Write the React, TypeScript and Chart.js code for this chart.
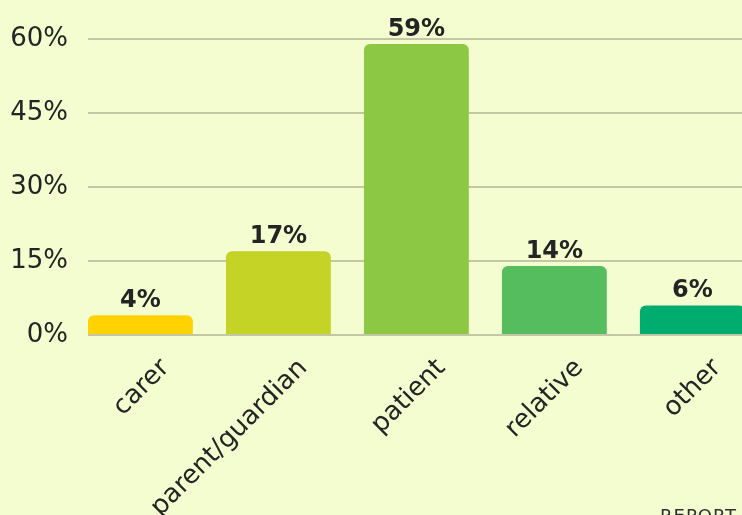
import React, { useEffect, useRef } from 'react';
import { Chart, registerables } from 'chart.js';

Chart.register(...registerables);

const categories = ['carer', 'parent/guardian', 'patient', 'relative', 'other'];
const values = [4, 17, 59, 14, 6];
const barColors = ['#ffd200', '#c5d226', '#8cc843', '#56bd5f', '#00ad6e'];
const yMin = 0;
const yMax = 60;
const yStep = 15;

const BG = '#f4fdd0';
const TEXT = '#242424';
const FONT = '"DejaVu Sans", "Open Sans", sans-serif';

export default function App() {
  const ref = useRef<HTMLCanvasElement>(null);

  useEffect(() => {
    document.body.style.margin = '0';
    document.body.style.background = BG;

    const valueLabels = {
      id: 'valueLabels',
      afterDatasetsDraw(chart: any) {
        const ctx = chart.ctx;
        const meta = chart.getDatasetMeta(0);
        ctx.save();
        ctx.font = `bold 24px ${FONT}`;
        ctx.fillStyle = TEXT;
        ctx.textAlign = 'center';
        ctx.textBaseline = 'alphabetic';
        meta.data.forEach((el: any, i: number) => {
          ctx.fillText(values[i] + '%', el.x, el.y - 8);
        });
        ctx.restore();
      },
    };

    const chart = new Chart(ref.current as HTMLCanvasElement, {
      type: 'bar',
      data: {
        datasets: [
          {
            data: values.map((v, i) => ({ x: i, y: v })),
            backgroundColor: barColors,
            borderWidth: 0,
            borderRadius: { topLeft: 6, topRight: 6, bottomLeft: 0, bottomRight: 0 },
            borderSkipped: 'bottom',
            barPercentage: 0.76,
            categoryPercentage: 1,
          } as any,
        ],
      },
      options: {
        animation: false,
        responsive: false,
        layout: { padding: { top: 39, left: 0, right: 0, bottom: 0 } },
        plugins: { legend: { display: false }, tooltip: { enabled: false } },
        scales: {
          x: {
            type: 'linear',
            offset: false,
            min: -0.38,
            max: 4.36,
            grid: { display: false, offset: false },
            border: { display: false },
            ticks: {
              stepSize: 1,
              includeBounds: false,
              autoSkip: false,
              minRotation: 45,
              maxRotation: 45,
              labelOffset: 25,
              padding: 10,
              color: TEXT,
              font: { family: FONT, size: 26 },
              callback: (v: any) => (Number.isInteger(v) && categories[v] !== undefined ? categories[v] : ''),
            },
            afterFit: (s: any) => {
              s.height = 180;
              s.paddingLeft = 0;
              s.paddingRight = 0;
            },
          } as any,
          y: {
            min: yMin,
            max: yMax,
            grid: { color: '#c3c7a6', lineWidth: 2, drawTicks: false },
            border: { display: false },
            ticks: {
              stepSize: yStep,
              padding: 20,
              color: TEXT,
              font: { family: FONT, size: 26 },
              callback: (v: any) => v + '%',
            },
            afterFit: (s: any) => {
              s.width = 88;
            },
          } as any,
        },
      },
      plugins: [valueLabels],
    });
    return () => chart.destroy();
  }, []);

  return (
    <div style={{ position: 'relative', width: 742, height: 515, background: BG, overflow: 'hidden' }}>
      <canvas ref={ref} width={742} height={515} style={{ display: 'block' }} />
      <div
        style={{
          position: 'absolute',
          left: 660,
          top: 505,
          fontFamily: FONT,
          fontSize: 18,
          letterSpacing: 1,
          color: '#333',
          whiteSpace: 'nowrap',
        }}
      >
        REPORT
      </div>
    </div>
  );
}
